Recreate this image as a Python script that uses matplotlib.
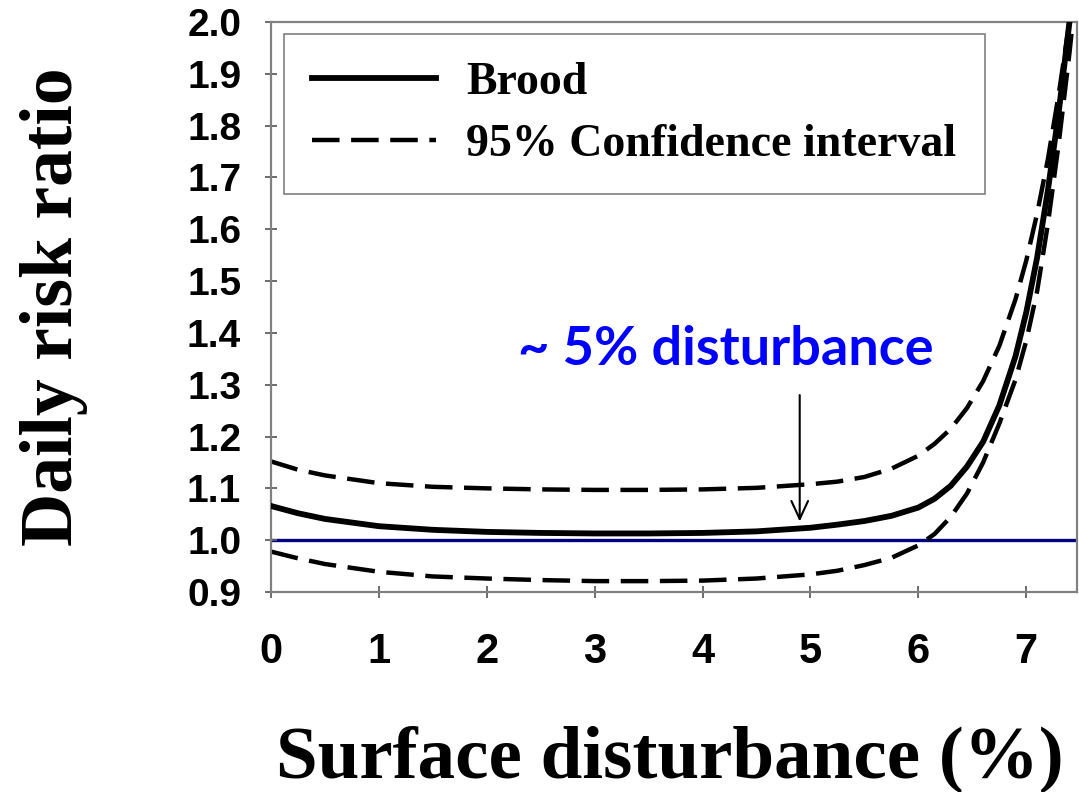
import matplotlib
matplotlib.use("Agg")
import matplotlib.pyplot as plt
import numpy as np

# values
disturbance = [0, 0.25, 0.5, 1, 1.5, 2, 2.5, 3, 3.5, 4, 4.5, 5, 5.25, 5.5, 5.75,
               6, 6.15, 6.3, 6.45, 6.6, 6.75, 6.9, 7.0, 7.1, 7.2, 7.3, 7.4, 7.5]
brood = [1.066, 1.052, 1.041, 1.027, 1.020, 1.016, 1.014, 1.013, 1.013, 1.014,
         1.017, 1.024, 1.030, 1.037, 1.047, 1.063, 1.080, 1.105, 1.142, 1.19,
         1.26, 1.355, 1.44, 1.545, 1.675, 1.825, 2.0, 2.2]
ci_upper = [1.152, 1.136, 1.125, 1.110, 1.103, 1.100, 1.098, 1.097, 1.097, 1.098,
            1.101, 1.108, 1.113, 1.122, 1.138, 1.163, 1.186, 1.215, 1.255, 1.307,
            1.375, 1.465, 1.54, 1.63, 1.735, 1.86, 2.0, 2.2]
ci_lower = [0.978, 0.965, 0.954, 0.939, 0.930, 0.926, 0.923, 0.921, 0.921, 0.922,
            0.926, 0.934, 0.941, 0.952, 0.966, 0.99, 1.012, 1.045, 1.09, 1.15,
            1.225, 1.31, 1.385, 1.48, 1.61, 1.765, 1.94, 2.14]
reference_ratio = 1.0
arrow_x = 4.9
arrow_top, arrow_tip = 1.28, 1.036

x_ticks = [0, 1, 2, 3, 4, 5, 6, 7]
y_ticks = np.round(np.arange(0.9, 2.01, 0.1), 1)

fig = plt.figure(figsize=(10.79, 7.92), dpi=100)
ax = fig.add_axes([271 / 1079, 1 - 592 / 792, 806 / 1079, 570 / 792])

ax.axhline(reference_ratio, color="#000080", lw=2.4, zorder=1)
ax.plot(disturbance, brood, color="black", lw=4.2, label="Brood", zorder=3,
        solid_joinstyle="round")
ax.plot(disturbance, ci_upper, color="black", lw=3.2, dashes=(6.2, 2.6),
        label="95% Confidence interval", zorder=2)
ax.plot(disturbance, ci_lower, color="black", lw=3.2, dashes=(6.2, 2.6), zorder=2)

ax.set_xlim(0, 806 / 107.9)
ax.set_ylim(0.9, 2.0)
ax.set_xticks(x_ticks)
ax.set_yticks(y_ticks)
ax.set_yticklabels(["%.1f" % v for v in y_ticks])

for s in ax.spines.values():
    s.set_color("#808080")
    s.set_linewidth(1.6)
ax.tick_params(direction="inout", length=9, width=1.3, color="#606060")
ax.tick_params(axis="y", pad=17)
ax.tick_params(axis="x", pad=24)
for lab in ax.get_yticklabels():
    lab.set_fontfamily("Liberation Sans")
    lab.set_fontweight("bold")
    lab.set_fontsize(28)
for lab in ax.get_xticklabels():
    lab.set_fontfamily("Liberation Sans")
    lab.set_fontweight("bold")
    lab.set_fontsize(30)

ax.set_xlabel("Surface disturbance (%)", family="Liberation Serif",
              fontweight="bold", fontsize=54, va="baseline")
ax.xaxis.set_label_coords(0.495, (15 - 200) / 570)
ax.set_ylabel("Daily risk ratio", family="Liberation Serif",
              fontweight="bold", fontsize=53, va="baseline", ha="center",
              rotation_mode="anchor")
ax.yaxis.set_label_coords((72 - 271) / 806, 0.5)

leg = ax.legend(loc="upper left", bbox_to_anchor=(284 / 1079, 1 - 34 / 792),
                bbox_transform=fig.transFigure, borderaxespad=0,
                prop={"family": "Liberation Serif", "weight": "bold", "size": 33},
                handlelength=2.7, fancybox=False, framealpha=1,
                borderpad=0.62, labelspacing=0.42, handletextpad=0.65)
leg.get_frame().set_edgecolor("#808080")
leg.get_frame().set_linewidth(1.2)

ax.text(4.217, 1.339, "~ 5% disturbance", color="#0000FF", family="Lato",
        fontweight="bold", fontsize=39, ha="center", va="baseline")
ax.annotate("", xy=(arrow_x, arrow_tip), xytext=(arrow_x, arrow_top),
            arrowprops=dict(arrowstyle="->,head_length=0.65,head_width=0.3",
                            color="black", lw=1.5, mutation_scale=20,
                            shrinkA=0, shrinkB=0))

fig.savefig("out.png", dpi=100)
